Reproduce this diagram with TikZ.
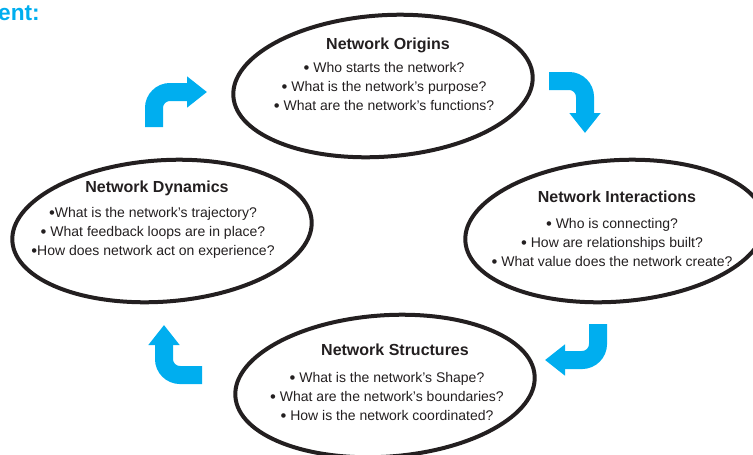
\documentclass[tikz,border=0pt]{standalone}
\usepackage{fontspec}
\setmainfont{Liberation Sans}
\usetikzlibrary{shapes.geometric,arrows.meta}
\definecolor{cyclecyan}{HTML}{00AEEF}
\definecolor{inkblack}{HTML}{231F20}
\newcommand\qdot{\raisebox{-0.8pt}{\fontsize{12.5}{13}\selectfont\textbullet}}

\begin{document}
\begin{tikzpicture}[x=0.75pt, y=-0.75pt,
    bubble/.style={ellipse, draw=inkblack, line width=3pt, minimum width=225pt, minimum height=106pt, rotate=4},
    heading/.style={text=inkblack, font=\fontsize{12}{14}\bfseries, inner sep=0pt},
    qlist/.style={align=center, text=inkblack, font=\fontsize{10.5}{14.25}\selectfont, inner sep=0pt},
    cyclearrow/.style={cyclecyan, line width=13.5pt, rounded corners=12pt, -{Triangle[width=22.5pt, length=15pt]}}]
    \clip (0,0) rectangle (753,454) ;

    % the four stages
    \node [bubble] at (383,86) (origins) {} ;
    \node [bubble] at (615,231) (interactions) {} ;
    \node [bubble] at (385,386) (structures) {} ;
    \node [bubble] at (162,231) (dynamics) {} ;

    \node [heading] at (388,45) (origins-t) {Network Origins} ;
    \node [qlist] at (384,87) (origins-q) {\qdot\ Who starts the network?\\
      \qdot\ What is the network’s purpose?\\
      \qdot\ What are the network’s functions?} ;

    \node [heading] at (617,197) (interactions-t) {Network Interactions} ;
    \node [qlist] at (612,243) (interactions-q) {\qdot\ Who is connecting?\\
      \qdot\ How are relationships built?\\
      \qdot\ What value does the network create?} ;

    \node [heading] at (395,350) (structures-t) {Network Structures} ;
    \node [qlist] at (387,397) (structures-q) {\qdot\ What is the network’s Shape?\\
      \qdot\ What are the network’s boundaries?\\
      \qdot\ How is the network coordinated?} ;

    \node [heading] at (157,188) (dynamics-t) {Network Dynamics} ;
    \node [qlist] at (153,233) (dynamics-q) {\qdot What is the network’s trajectory?\\
      \qdot\ What feedback loops are in place?\\
      \qdot How does network act on experience?} ;

    \node [anchor=base east, text=cyclecyan, font=\fontsize{17}{18}\bfseries, inner sep=0pt] at (40,20) (caption) {ent:} ;

    % arrows between the stages
    \coordinate (d2o-a) at (154,127) ;
    \coordinate (d2o-b) at (207,92) ;
    \coordinate (o2i-a) at (549,81) ;
    \coordinate (o2i-b) at (585,133) ;
    \coordinate (i2s-a) at (598,324) ;
    \coordinate (i2s-b) at (545,360) ;
    \coordinate (s2d-a) at (202,375) ;
    \coordinate (s2d-b) at (164,325) ;
    \draw[cyclearrow] (d2o-a) |- (d2o-b) ;
    \draw[cyclearrow] (o2i-a) -| (o2i-b) ;
    \draw[cyclearrow] (i2s-a) |- (i2s-b) ;
    \draw[cyclearrow] (s2d-a) -| (s2d-b) ;
  \end{tikzpicture}
\end{document}
